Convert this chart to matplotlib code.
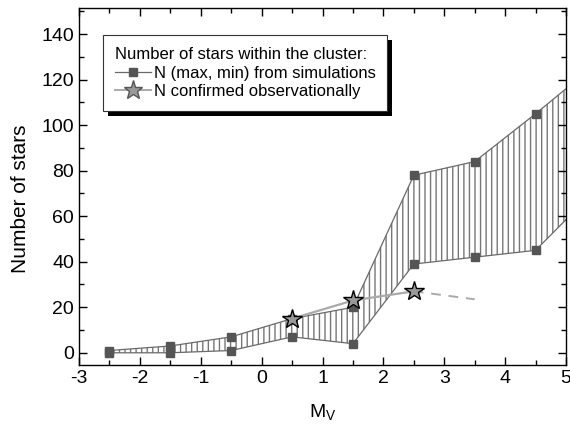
import numpy as np
import matplotlib
matplotlib.use("Agg")
import matplotlib.pyplot as plt
from matplotlib.ticker import MultipleLocator
from matplotlib.patches import Rectangle

plt.rcParams['font.family'] = ['Liberation Sans', 'DejaVu Sans']
plt.rcParams['mathtext.fontset'] = 'custom'
plt.rcParams['mathtext.rm'] = 'Liberation Sans'
plt.rcParams['axes.unicode_minus'] = False
plt.rcParams['hatch.linewidth'] = 1.0

# simulated number of stars (max / min) vs absolute magnitude
mv = [-2.5, -1.5, -0.5, 0.5, 1.5, 2.5, 3.5, 4.5, 5.5]
n_max = [1, 3, 7, 15, 20, 78, 84, 105, 127]
n_min = [0, 0, 1, 7, 4, 39, 42, 45, 72]

# observationally confirmed
mv_obs = [0.5, 1.5, 2.5]
n_obs = [15, 23, 27]
# extrapolated trend (dashed)
mv_ext = [2.5, 3.5]
n_ext = [27, 23.5]

fig = plt.figure(figsize=(5.7, 4.29), dpi=100)
ax = fig.add_axes([0.1386, 0.149, 0.8544, 0.832])

line_col = '#6a6a6a'
sq_col = '#555555'

ax.fill_between(mv, n_min, n_max, facecolor='none', edgecolor='#777777',
                linewidth=0, hatch='|||', zorder=1)
ax.plot(mv, n_max, '-s', color=line_col, lw=0.9, ms=5.5, mfc=sq_col, mec=sq_col, zorder=2)
ax.plot(mv, n_min, '-s', color=line_col, lw=0.9, ms=5.5, mfc=sq_col, mec=sq_col, zorder=2)

ax.plot(mv_ext, n_ext, '--', color='#aaaaaa', lw=1.4, dashes=(5, 4), zorder=3)
ax.plot(mv_obs, n_obs, '-', color='#aaaaaa', lw=1.6, zorder=3)
ax.plot(mv_obs, n_obs, '*', ms=15, mfc='#999999', mec='black', mew=1.0, zorder=4)

# legend proxies
h1, = ax.plot([], [], '-s', color=line_col, lw=0.9, ms=5.5, mfc=sq_col, mec=sq_col)
h2, = ax.plot([], [], '-*', color='#aaaaaa', lw=1.4, ms=14, mfc='#999999', mec='#555555', mew=1.0)
leg = ax.legend([h1, h2], ['N (max, min) from simulations', 'N confirmed observationally'],
                title='Number of stars within the cluster:', title_fontsize=12, fontsize=12,
                loc='upper left', bbox_to_anchor=(0.049, 0.924), borderaxespad=0,
                alignment='left', fancybox=False, framealpha=1, handlelength=2.2,
                handletextpad=0.15, labelspacing=0.22, borderpad=0.7)
leg.get_frame().set_edgecolor('#333333')
leg.get_frame().set_linewidth(0.8)

ax.set_xlim(-3, 5)
ax.set_ylim(-5.4, 151.4)
ax.xaxis.set_major_locator(MultipleLocator(1))
ax.xaxis.set_minor_locator(MultipleLocator(0.5))
ax.yaxis.set_minor_locator(MultipleLocator(10))
ax.set_yticks(np.arange(0, 141, 20))
ax.tick_params(which='both', direction='in', top=True, right=True, width=1.0, labelsize=14)
ax.tick_params(which='major', length=6)
ax.tick_params(which='minor', length=3.5)
for s in ax.spines.values():
    s.set_linewidth(1.0)

ax.set_xlabel(r'$\mathrm{M_V}$', fontsize=14, labelpad=11)
ax.set_ylabel('Number of stars', fontsize=15)
ax.yaxis.set_label_coords(-0.1, 0.465)

# black drop shadow under the legend box
fig.canvas.draw()
bb = leg.get_frame().get_window_extent()
ax.add_patch(Rectangle((bb.x0 + 5, bb.y0 - 5), bb.width, bb.height, transform=None,
                       facecolor='black', edgecolor='none', zorder=4.9, clip_on=False))

fig.savefig('out.png', dpi=100)
